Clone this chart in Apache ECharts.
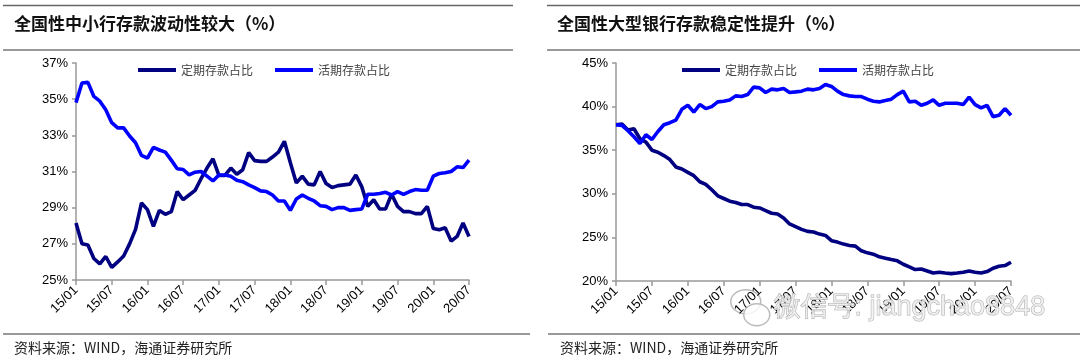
<!DOCTYPE html>
<html>
<head>
<meta charset="utf-8">
<script src="https://cdn.jsdelivr.net/npm/echarts@6/dist/echarts.min.js"></script>
<style>html,body{margin:0;padding:0;background:#fff;}#c{width:1080px;height:359px;}</style>
</head>
<body>
<div id="c"></div>
<script>
const months = ["15/01","15/02","15/03","15/04","15/05","15/06","15/07","15/08","15/09","15/10","15/11","15/12",
"16/01","16/02","16/03","16/04","16/05","16/06","16/07","16/08","16/09","16/10","16/11","16/12",
"17/01","17/02","17/03","17/04","17/05","17/06","17/07","17/08","17/09","17/10","17/11","17/12",
"18/01","18/02","18/03","18/04","18/05","18/06","18/07","18/08","18/09","18/10","18/11","18/12",
"19/01","19/02","19/03","19/04","19/05","19/06","19/07","19/08","19/09","19/10","19/11","19/12",
"20/01","20/02","20/03","20/04","20/05","20/06","20/07"];

const seriesNames = ["定期存款占比","活期存款占比"];

// Left: 全国性中小行
const smallTime = [28.15,27.0,26.93,26.19,25.89,26.3,25.7,26.0,26.33,27.0,27.8,29.26,
28.89,27.96,28.85,28.63,28.78,29.89,29.44,29.7,29.96,30.6,31.19,31.7,
30.78,30.78,31.19,30.85,31.1,32.04,31.6,31.56,31.56,31.8,32.07,32.67,
31.48,30.37,30.74,30.3,30.26,31.0,30.33,30.11,30.22,30.26,30.3,30.81,
30.15,29.07,29.44,28.93,28.93,29.74,29.07,28.78,28.78,28.67,28.67,29.07,
27.85,27.78,27.89,27.15,27.41,28.15,27.41];
const smallDemand = [34.81,35.89,35.93,35.15,34.89,34.41,33.7,33.41,33.41,32.96,32.59,31.89,
31.74,32.33,32.19,32.07,31.63,31.15,31.11,30.81,30.96,31.0,30.74,30.48,
30.81,30.81,30.74,30.52,30.44,30.26,30.11,29.93,29.89,29.7,29.37,29.37,
28.85,29.48,29.7,29.52,29.37,29.11,29.07,28.89,29.0,29.0,28.85,28.89,
28.93,29.74,29.74,29.78,29.85,29.7,29.89,29.74,29.89,30.0,29.96,29.96,
30.74,30.89,30.93,31.0,31.26,31.22,31.63];

// Right: 全国性大型银行
const bigTime = [37.92,38.0,37.31,37.46,36.31,35.92,35.0,34.77,34.38,33.92,33.08,32.85,
32.46,32.08,31.38,31.08,30.46,29.77,29.46,29.15,29.0,28.77,28.77,28.46,
28.38,28.08,27.77,27.69,27.23,26.54,26.23,25.92,25.69,25.62,25.38,25.23,
24.62,24.46,24.23,24.08,24.0,23.46,23.23,23.08,22.77,22.62,22.46,22.31,
21.92,21.62,21.31,21.38,21.15,20.92,21.0,20.92,20.85,20.92,21.0,21.15,
21.0,20.92,21.08,21.46,21.69,21.77,22.15];
const bigDemand = [37.92,37.85,37.23,36.54,35.77,36.77,36.23,37.15,37.92,38.15,38.46,39.69,
40.15,39.38,40.23,39.77,40.0,40.54,40.62,40.77,41.23,41.15,41.38,42.23,
42.15,41.62,42.0,41.92,42.08,41.62,41.69,41.77,42.0,41.92,42.08,42.54,
42.31,41.77,41.38,41.23,41.15,41.15,40.85,40.62,40.54,40.69,40.85,41.38,
41.77,40.54,40.62,40.15,40.38,40.77,40.15,40.38,40.38,40.38,40.23,41.08,
40.23,39.85,40.15,38.85,39.0,39.77,39.0];

const leftTicks = {min:25, max:37, interval:2};
const rightTicks = {min:20, max:45, interval:5};

const titles = ["全国性中小行存款波动性较大（%）","全国性大型银行存款稳定性提升（%）"];
const sourceText = "资料来源：WIND，海通证券研究所";
const watermark = "微信号: jiangchao8848";

const NAVY = "#000080", BLUE = "#0000FF";
const cjk = '"Noto Sans CJK SC", sans-serif';
const latin = '"Liberation Sans", Arial, sans-serif';

function xAxis(gi){
  return {
    type:'category', gridIndex:gi, data:months, boundaryGap:false,
    axisLine:{lineStyle:{color:'#999', width:1.5}},
    axisTick:{interval:5, length:5, lineStyle:{color:'#999', width:1.5}},
    axisLabel:{interval:5, rotate:45, fontFamily:latin, fontSize:13, color:'#000', margin:8},
    splitLine:{show:false}
  };
}
function yAxis(gi, t){
  return {
    type:'value', gridIndex:gi, min:t.min, max:t.max, interval:t.interval,
    axisLine:{show:true, lineStyle:{color:'#999', width:1.5}},
    axisTick:{show:true, length:4, lineStyle:{color:'#999', width:1.5}},
    axisLabel:{formatter:'{value}%', fontFamily:latin, fontSize:13, color:'#000', margin:8},
    splitLine:{show:false}
  };
}
function line(name, data, color, gi){
  return {
    name:name, type:'line', xAxisIndex:gi, yAxisIndex:gi, data:data,
    showSymbol:false, symbol:'none', smooth:false,
    lineStyle:{color:color, width:3.6}, itemStyle:{color:color},
    emphasis:{disabled:true}, animation:false
  };
}
function legend(left){
  return {
    left:left, top:59, orient:'horizontal', icon:'rect', itemWidth:38, itemHeight:4,
    itemGap:22, itemStyle:{borderWidth:0},
    textStyle:{fontFamily:cjk, fontSize:12, color:'#444', padding:[0,0,0,0]},
    data:seriesNames
  };
}
function hline(x1,x2,y,color,w){
  return {type:'line', shape:{x1:x1,y1:y,x2:x2,y2:y}, style:{stroke:color, lineWidth:w}, silent:true};
}

const chart = echarts.init(document.getElementById('c'), null, {renderer:'canvas'});
chart.setOption({
  animation:false,
  backgroundColor:'#fff',
  grid:[
    {left:76, right:1080-469, top:63, bottom:359-280},
    {left:616, right:1080-1011, top:63, bottom:359-281}
  ],
  xAxis:[xAxis(0), xAxis(1)],
  yAxis:[yAxis(0,leftTicks), yAxis(1,rightTicks)],
  legend:[legend(133), legend(677)],
  series:[
    line(seriesNames[0], smallTime, NAVY, 0),
    line(seriesNames[1], smallDemand, BLUE, 0),
    line(seriesNames[0], bigTime, NAVY, 1),
    line(seriesNames[1], bigDemand, BLUE, 1)
  ],
  graphic:[
    hline(3,513,5.5,'#666',1.5),
    hline(3,513,50,'#999',2),
    hline(547,1080,5.5,'#666',1.5),
    hline(547,1080,50,'#999',2),
    hline(3,530,334,'#777',1.5),
    hline(548,1080,334,'#777',1.5),
    {type:'text', left:14, top:15, style:{text:titles[0], font:'bold 17px '+cjk, fill:'#111'}},
    {type:'text', left:557, top:15, style:{text:titles[1], font:'bold 17px '+cjk, fill:'#111'}},
    {type:'text', left:14, top:341, style:{text:sourceText, font:'14px '+cjk, fill:'#222'}},
    {type:'text', left:560, top:341, style:{text:sourceText, font:'14px '+cjk, fill:'#222'}},
    {type:'group', left:730, top:289, children:[
      {type:'ellipse', shape:{cx:16, cy:15, rx:15, ry:12}, style:{fill:'rgba(255,255,255,0.6)', stroke:'#bbb', lineWidth:1.5}},
      {type:'ellipse', shape:{cx:27, cy:28, rx:13, ry:11}, style:{fill:'rgba(255,255,255,0.8)', stroke:'#bbb', lineWidth:1.5}}
    ], silent:true, z:100},
    {type:'text', left:773, top:294, z:100, silent:true,
      style:{text:watermark, font:'27px '+latin, fill:'rgba(240,240,240,0.8)', stroke:'#b0b0b0', lineWidth:1}}
  ]
});
</script>
</body>
</html>
